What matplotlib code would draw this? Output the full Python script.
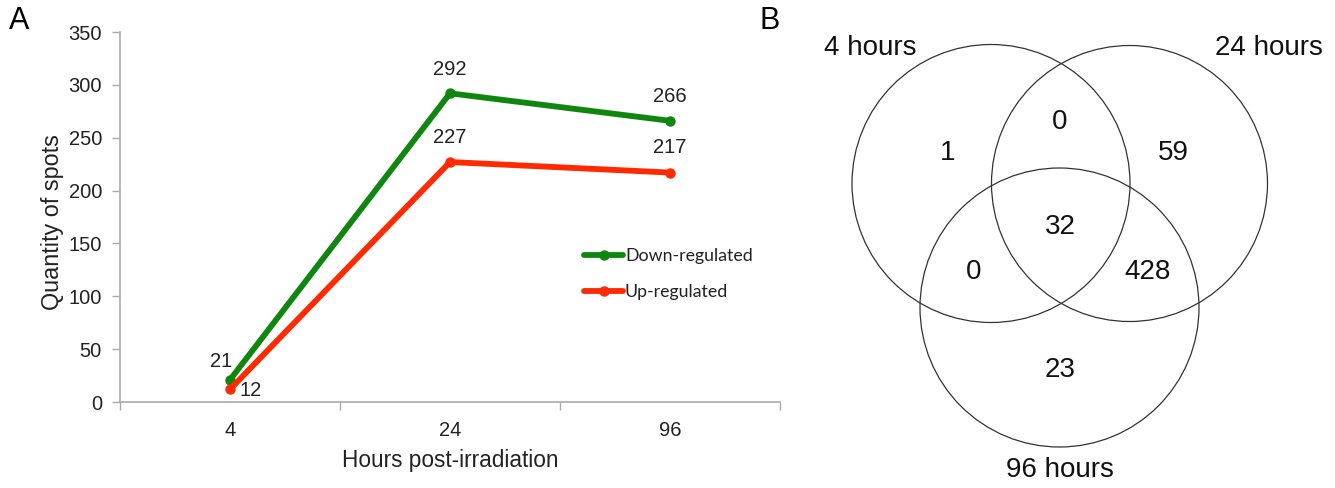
import matplotlib
matplotlib.use("Agg")
import matplotlib.pyplot as plt
from matplotlib.patches import Circle

plt.rcParams['font.family'] = ['Liberation Sans', 'DejaVu Sans']

# ---- data ----
hours = ["4", "24", "96"]
down_regulated = [21, 292, 266]
up_regulated = [12, 227, 217]
y_ticks = [0, 50, 100, 150, 200, 250, 300, 350]

venn_sets = ["4 hours", "24 hours", "96 hours"]
venn_regions = ["4", "4&24", "24", "4&24&96", "4&96", "24&96", "96"]
venn_counts = [1, 0, 59, 32, 0, 428, 23]

W, H = 1335, 488
fig = plt.figure(figsize=(W / 100, H / 100), dpi=100)

# ---- panel A ----
axL, axR, axB, axT = 120, 780, 402, 32
ax = fig.add_axes([axL / W, 1 - axB / H, (axR - axL) / W, (axB - axT) / H])
x = list(range(len(hours)))
green = "#0f870f"
red = "#ff2a00"
ax.plot(x, down_regulated, color=green, lw=4.2, marker="o", ms=6.5,
        solid_capstyle="round", label="Down-regulated", zorder=3)
ax.plot(x, up_regulated, color=red, lw=4.2, marker="o", ms=6.5,
        solid_capstyle="round", label="Up-regulated", zorder=3)
ax.set_xlim(-0.5, len(hours) - 0.5)
ax.set_ylim(0, 350)
ax.set_yticks(y_ticks)
ax.set_xticks(x)
ax.set_xticklabels(hours)
ax.set_xticks([i - 0.5 for i in range(len(hours) + 1)], minor=True)
ax.tick_params(axis="x", which="major", length=0, pad=14, labelsize=14.5, colors="#222222")
ax.tick_params(axis="x", which="minor", length=6, width=1, direction="out", color="#aaaaaa")
ax.tick_params(axis="y", length=6, width=1, direction="out", color="#aaaaaa",
               labelsize=14.5, labelcolor="#222222", pad=7)
for s in ["top", "right"]:
    ax.spines[s].set_visible(False)
for s in ["left", "bottom"]:
    ax.spines[s].set_color("#aaaaaa")
    ax.spines[s].set_linewidth(1.2)
ax.set_xlabel("Hours post-irradiation", fontsize=16.3, color="#222222")
ax.set_ylabel("Quantity of spots", fontsize=16.8, color="#222222")
ax.xaxis.set_label_coords(0.5, (axB - 461) / (axB - axT))
ax.xaxis.label.set_va("center")
ax.yaxis.set_label_coords((53 - axL) / (axR - axL), (axB - 222) / (axB - axT))
ax.yaxis.label.set_va("center")

# data labels
fs = 14.5
for i, v in enumerate(down_regulated):
    off = (-9, 18) if i == 0 else (0, 24)
    ax.annotate(str(v), (i, v), xytext=off, textcoords="offset pixels",
                ha="center", va="center", fontsize=fs, color="#222222")
for i, v in enumerate(up_regulated):
    off = (21, -1) if i == 0 else (0, 25)
    ax.annotate(str(v), (i, v), xytext=off, textcoords="offset pixels",
                ha="center", va="center", fontsize=fs, color="#222222")

leg = ax.legend(loc="upper left",
                bbox_to_anchor=((584 - axL) / (axR - axL), 1 - (248 - axT) / (axB - axT)),
                frameon=False, handlelength=2.2, handletextpad=0.1,
                labelspacing=1.15, borderaxespad=0, borderpad=0,
                prop={"family": ["Lato", "DejaVu Sans"], "size": 12.8})
for t in leg.get_texts():
    t.set_color("#222222")

fig.text(19 / W, 1 - 21 / H, "A", fontsize=22, ha="center", va="center")
fig.text(770 / W, 1 - 21 / H, "B", fontsize=22, ha="center", va="center")

# ---- panel B (Venn) ----
vx0 = 800
axv = fig.add_axes([vx0 / W, 0, (W - vx0) / W, 1])
axv.set_xlim(vx0, W)
axv.set_ylim(H, 0)
axv.axis("off")
circle_geom = [(991, 183.5, 139), (1129.5, 183.5, 138), (1059.5, 307.5, 139.5)]
for cx, cy, r in circle_geom:
    axv.add_patch(Circle((cx, cy), r, fill=False, ec="#333333", lw=0.9))

region_pos = {"4": (948, 153), "4&24": (1060, 122), "24": (1173, 153),
              "4&24&96": (1060, 227), "4&96": (974, 272), "24&96": (1148, 272),
              "96": (1060, 370)}
for name, cnt in zip(venn_regions, venn_counts):
    px, py = region_pos[name]
    axv.text(px, py, str(cnt), fontsize=20, ha="center", va="center", color="#111111")

label_pos = [(870, 48), (1269, 48), (1060, 470)]
for name, (px, py) in zip(venn_sets, label_pos):
    axv.text(px, py, name, fontsize=20, ha="center", va="center", color="#111111")

fig.savefig("out.png", dpi=100)
